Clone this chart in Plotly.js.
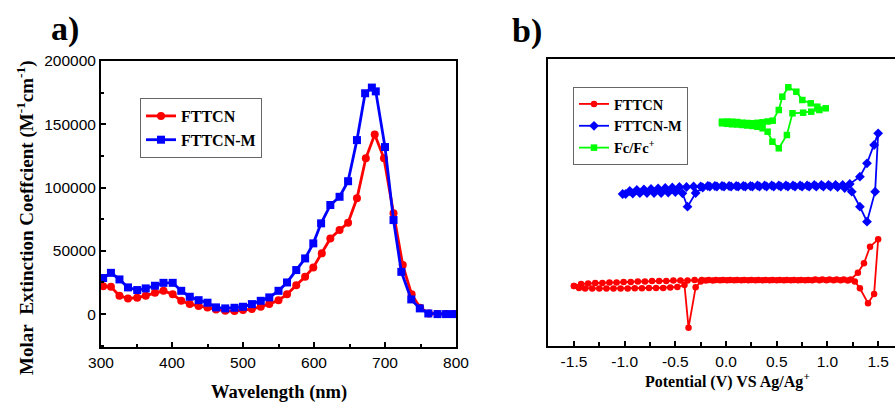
<!DOCTYPE html>
<html>
<head>
<meta charset="utf-8">
<script src="https://cdn.plot.ly/plotly-3.0.1.min.js"></script>
<style>
html,body{margin:0;padding:0;overflow:hidden;background:#fff;}
#chart{width:910px;height:403px;}
</style>
</head>
<body>
<div id="chart"></div>
<script>
// ---------- Panel a: absorption spectra ----------
const wlFTTCN = [303,314,326,338,351,363,376,388,401,413,425,437.5,450,462,475,488,500,512.5,525,537,550,562,575,587.5,599,611,623,636,648,660.5,673,685.5,698.5,712,725,737.5,749.5,762,774,786,797];
const epsFTTCN = [22100,21600,14500,12400,12900,14500,16800,18400,15600,10500,7900,6300,5300,3700,2600,2400,3200,4000,5800,7900,11000,15600,22700,29500,36900,48000,59800,66400,72200,91500,123100,142000,123100,79600,38700,15600,5000,500,0,0,0];
const wlFTTCNM = [303,314,326,338,351,363,376,388,401,413,425,437.5,450,462,475,488,500,512.5,525,537,550,562,575,587.5,599,610,623,636,648,660.5,672,681.5,687,700,712,723,737,749,761,774,786,797];
const epsFTTCNM = [28500,32600,27400,21100,19000,20300,22400,24700,24700,18400,13700,11000,9000,5300,4500,5000,5800,7900,10500,13200,18400,25000,34800,44000,55900,71700,86200,92700,105000,137500,174500,179000,176000,132000,74300,33400,11600,4500,500,0,0,0];
const xTicksA = [300,400,500,600,700,800];
const yTicksA = [0,50000,100000,150000,200000];

// ---------- Panel b: cyclic voltammograms (current in arbitrary units) ----------
const vFTTCN = [-1.50,-1.43,-1.36,-1.29,-1.22,-1.15,-1.08,-1.01,-0.94,-0.87,-0.80,-0.73,-0.66,-0.59,-0.52,-0.45,-0.38,-0.31,-0.24,-0.17,-0.10,-0.03,0.04,0.11,0.18,0.25,0.32,0.39,0.46,0.53,0.60,0.67,0.74,0.81,0.88,0.95,1.02,1.09,1.16,1.23,1.30,1.36,1.42,1.50,
  1.46,1.40,1.32,1.27,1.20,1.13,1.06,0.99,0.92,0.85,0.78,0.71,0.64,0.57,0.50,0.43,0.36,0.29,0.22,0.15,0.08,0.01,-0.06,-0.13,-0.20,-0.25,-0.30,-0.37,-0.41,-0.48,-0.55,-0.62,-0.69,-0.76,-0.83,-0.90,-0.97,-1.04,-1.11,-1.18,-1.25,-1.32,-1.39,-1.45,-1.50];
const iFTTCN = [60,62,62.5,63,63,63.5,63.5,64,64,64.5,64.5,65,65,65,65.5,65.5,65.5,66,66,66,66,66,66,66,66,66,66,66,66,66,66,66,66,66,66.5,66.5,66.5,66.5,66.5,66.5,73.3,82.7,99.3,106.7,
  52,42.7,57.7,64.5,65.5,65.7,65.7,65.7,65.7,65.7,65.7,65.7,65.7,65.7,65.7,65.7,65.7,65.7,65.7,65.7,65.7,65.7,65.7,65.5,65.5,64.5,58.7,18.3,61,59,58.5,58,58,58,57.8,57.8,57.6,57.6,57.5,57.5,57.5,57.5,57.5,58,60];
const vFTTCNM = [-1.02,-0.95,-0.88,-0.81,-0.74,-0.67,-0.60,-0.53,-0.46,-0.39,-0.32,-0.25,-0.18,-0.11,-0.04,0.03,0.10,0.17,0.24,0.31,0.38,0.45,0.52,0.59,0.66,0.73,0.80,0.87,0.94,1.01,1.08,1.15,1.22,1.32,1.39,1.46,1.50,
  1.47,1.39,1.32,1.24,1.17,1.10,1.03,0.96,0.89,0.82,0.75,0.68,0.61,0.54,0.47,0.40,0.33,0.26,0.19,0.12,0.05,-0.02,-0.09,-0.16,-0.23,-0.30,-0.38,-0.43,-0.50,-0.57,-0.64,-0.71,-0.78,-0.85,-0.92,-0.99];
const iFTTCNM = [152,155,156,156.5,157,157.5,158,158.5,159,159,159.5,159.5,160,160,160,160,160,160,160,160.5,160.5,160.5,160.5,160.5,160.5,160.5,160.5,161,161,161,161,161,162,169.3,182.7,201,212.7,
  154.3,124.3,139.3,154.3,158,159,159.5,159.5,159.5,159.5,159.5,159.5,159.5,159.5,159.5,159.5,159.5,159.5,159.5,159.5,159.5,159.5,159.5,159.5,158.5,153,139.3,152.7,154,153.5,153,153,153,152.8,152.5,152];
const vFc = [-0.04,0.01,0.06,0.11,0.16,0.21,0.26,0.31,0.36,0.41,0.46,0.52,0.555,0.614,0.693,0.752,0.835,0.90,0.983,
  0.92,0.84,0.76,0.655,0.60,0.52,0.457,0.41,0.36,0.31,0.26,0.21,0.16,0.11,0.06,0.01,-0.04];
const iFc = [224.3,224.5,224.3,224,223.3,223,222.7,223.2,223.7,224.5,225.3,236,249.3,258.7,254.3,246,242.7,239.3,237.7,
  236,234.3,233.3,232.7,211,197.7,204.3,214.3,217.7,219.2,220,220.5,221,221.5,221.7,222.2,222.7];
const xTicksB = [-1.5,-1.0,-0.5,0.0,0.5,1.0,1.5];
const xTickTextB = ['-1.5','-1.0','-0.5','0.0','0.5','1.0','1.5'];

const W = 910, H = 403;
const px = v => v / W;
const py = v => 1 - v / H;

const tickFont = {family: 'Liberation Sans, Arial, sans-serif', size: 15.5, color: '#000'};
const serifBold = (s) => ({family: 'Liberation Serif, Times New Roman, serif', size: s, color: '#000'});

const traces = [
  {x: wlFTTCN, y: epsFTTCN, name: '<b>FTTCN</b>', type: 'scatter', mode: 'lines+markers',
   line: {color: '#ff0000', width: 2.8}, marker: {symbol: 'circle', size: 8, color: '#ff0000'},
   xaxis: 'x', yaxis: 'y', legend: 'legend'},
  {x: wlFTTCNM, y: epsFTTCNM, name: '<b>FTTCN-M</b>', type: 'scatter', mode: 'lines+markers',
   line: {color: '#0000ff', width: 2.8}, marker: {symbol: 'square', size: 8, color: '#0000ff'},
   xaxis: 'x', yaxis: 'y', legend: 'legend'},
  {x: vFTTCN, y: iFTTCN, name: '<b>FTTCN</b>', type: 'scatter', mode: 'lines+markers',
   line: {color: '#ff0000', width: 1.8}, marker: {symbol: 'circle', size: 6.5, color: '#ff0000'},
   xaxis: 'x2', yaxis: 'y2', legend: 'legend2'},
  {x: vFTTCNM, y: iFTTCNM, name: '<b>FTTCN-M</b>', type: 'scatter', mode: 'lines+markers',
   line: {color: '#0000ff', width: 1.8}, marker: {symbol: 'diamond', size: 7.5, color: '#0000ff'},
   xaxis: 'x2', yaxis: 'y2', legend: 'legend2'},
  {x: vFc, y: iFc, name: '<b>Fc/Fc<sup>+</sup></b>', type: 'scatter', mode: 'lines+markers',
   line: {color: '#00ff00', width: 1.8}, marker: {symbol: 'square', size: 6.5, color: '#00ff00'},
   xaxis: 'x2', yaxis: 'y2', legend: 'legend2'}
];

const layout = {
  width: W, height: H,
  margin: {l: 0, r: 0, t: 0, b: 0},
  paper_bgcolor: '#fff', plot_bgcolor: '#fff',
  xaxis: {domain: [px(101), px(456)], range: [300, 800], tickvals: xTicksA,
    ticks: 'inside', ticklen: 5, tickwidth: 2, tickcolor: '#000',
    minor: {ticks: 'inside', dtick: 50, ticklen: 3, tickwidth: 2, tickcolor: '#000'},
    showline: true, linewidth: 2, linecolor: '#000', mirror: true,
    showgrid: false, zeroline: false, tickfont: tickFont, anchor: 'y'},
  yaxis: {domain: [1 - 347 / H, 1 - 61 / H], range: [-26000, 200000], tickvals: yTicksA, tickformat: 'd',
    ticks: 'inside', ticklen: 5, tickwidth: 2, tickcolor: '#000',
    minor: {ticks: 'inside', dtick: 25000, ticklen: 3, tickwidth: 2, tickcolor: '#000'},
    showline: true, linewidth: 2, linecolor: '#000', mirror: true,
    showgrid: false, zeroline: false, tickfont: tickFont, anchor: 'x'},
  xaxis2: {domain: [px(548), px(903)], range: [-1.756, 1.745], tickvals: xTicksB, ticktext: xTickTextB,
    ticks: 'inside', ticklen: 5, tickwidth: 2, tickcolor: '#000',
    minor: {ticks: 'inside', dtick: 0.25, tick0: 0, ticklen: 4, tickwidth: 2, tickcolor: '#000'},
    showline: true, linewidth: 2, linecolor: '#000', mirror: true,
    showgrid: false, zeroline: false, tickfont: tickFont, anchor: 'y2'},
  yaxis2: {domain: [1 - 346 / H, 1 - 59 / H], range: [0, 287],
    showticklabels: false, ticks: '',
    showline: true, linewidth: 2, linecolor: '#000', mirror: true,
    showgrid: false, zeroline: false, anchor: 'x2'},
  legend: {x: px(140), y: py(98), xanchor: 'left', yanchor: 'top',
    bgcolor: '#fff', bordercolor: '#666', borderwidth: 1,
    font: serifBold(16), tracegroupgap: 0},
  legend2: {x: px(573), y: py(87), xanchor: 'left', yanchor: 'top',
    bgcolor: '#fff', bordercolor: '#666', borderwidth: 1,
    font: serifBold(14.5), tracegroupgap: 0},
  showlegend: true,
  annotations: [
    {text: '<b>a)</b>', xref: 'paper', yref: 'paper', x: px(65), y: py(29), xanchor: 'center', yanchor: 'middle',
     showarrow: false, font: serifBold(34)},
    {text: '<b>b)</b>', xref: 'paper', yref: 'paper', x: px(527), y: py(31), xanchor: 'center', yanchor: 'middle',
     showarrow: false, font: serifBold(34)},
    {text: '<b>Wavelength (nm)</b>', xref: 'paper', yref: 'paper', x: px(279), y: py(392), xanchor: 'center', yanchor: 'middle',
     showarrow: false, font: serifBold(18.5)},
    {text: '<b>Molar\u00a0 Extinction Coeffcient (M<sup>-1</sup>cm<sup>-1</sup>)</b>', xref: 'paper', yref: 'paper',
     x: px(25), y: py(218), xanchor: 'center', yanchor: 'middle', textangle: -90,
     showarrow: false, font: serifBold(19)},
    {text: '<b>Potential (V) VS Ag/Ag<sup>+</sup></b>', xref: 'paper', yref: 'paper', x: px(727), y: py(380), xanchor: 'center', yanchor: 'middle',
     showarrow: false, font: serifBold(16)}
  ]
};

Plotly.newPlot('chart', traces, layout, {staticPlot: true, displayModeBar: false});
</script>
</body>
</html>
